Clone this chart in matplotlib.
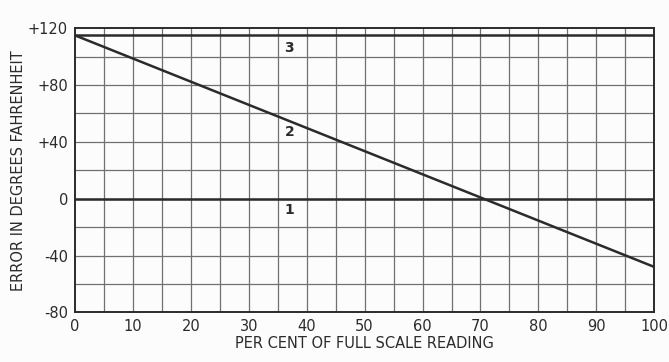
import matplotlib.pyplot as plt
import numpy as np

# reading error curves, percent of full scale vs error in deg F
pct = [0, 100]
err_1 = [0, 0]
err_2 = [115, -48]
err_3 = [115, 115]

curve_labels = ["1", "2", "3"]
label_x = [37, 37, 37]
label_y = [-8, 47, 106]

x_ticks = [0, 10, 20, 30, 40, 50, 60, 70, 80, 90, 100]
y_ticks = [-80, -40, 0, 40, 80, 120]
y_tick_labels = ["-80", "-40", "0", "+40", "+80", "+120"]

ink = "#2b2b2b"
grid_ink = "#707070"

fig = plt.figure(figsize=(6.69, 3.62), dpi=100, facecolor="#fcfcfc")
ax = fig.add_axes([0.112, 0.137, 0.866, 0.785])
ax.set_facecolor("#fcfcfc")

# fine grid: every 5 percent, every 20 degrees
for gx in np.arange(5, 100, 5):
    ax.axvline(gx, color=grid_ink, lw=0.9, zorder=1)
for gy in np.arange(-60, 120, 20):
    ax.axhline(gy, color=grid_ink, lw=0.9, zorder=1)

ax.plot(pct, err_1, color=ink, lw=1.8, zorder=3)
ax.plot(pct, err_2, color=ink, lw=1.8, zorder=3)
ax.plot(pct, err_3, color=ink, lw=1.8, zorder=3)

for lab, lx, ly in zip(curve_labels, label_x, label_y):
    ax.text(lx, ly, lab, fontsize=10, fontweight="bold", color=ink,
            ha="center", va="center", zorder=4)

ax.set_xlim(0, 100)
ax.set_ylim(-80, 120)
ax.set_xticks(x_ticks)
ax.set_yticks(y_ticks)
ax.set_yticklabels(y_tick_labels)
ax.tick_params(length=0, labelsize=10.5, colors=ink, pad=5)

for s in ax.spines.values():
    s.set_color(ink)
    s.set_linewidth(1.4)

ax.set_xlabel("PER CENT OF FULL SCALE READING", fontsize=10.5, color=ink, labelpad=1)
ax.set_ylabel("ERROR IN DEGREES FAHRENHEIT", fontsize=10.5, color=ink, labelpad=1)

plt.savefig("out.png", dpi=100, facecolor=fig.get_facecolor())
